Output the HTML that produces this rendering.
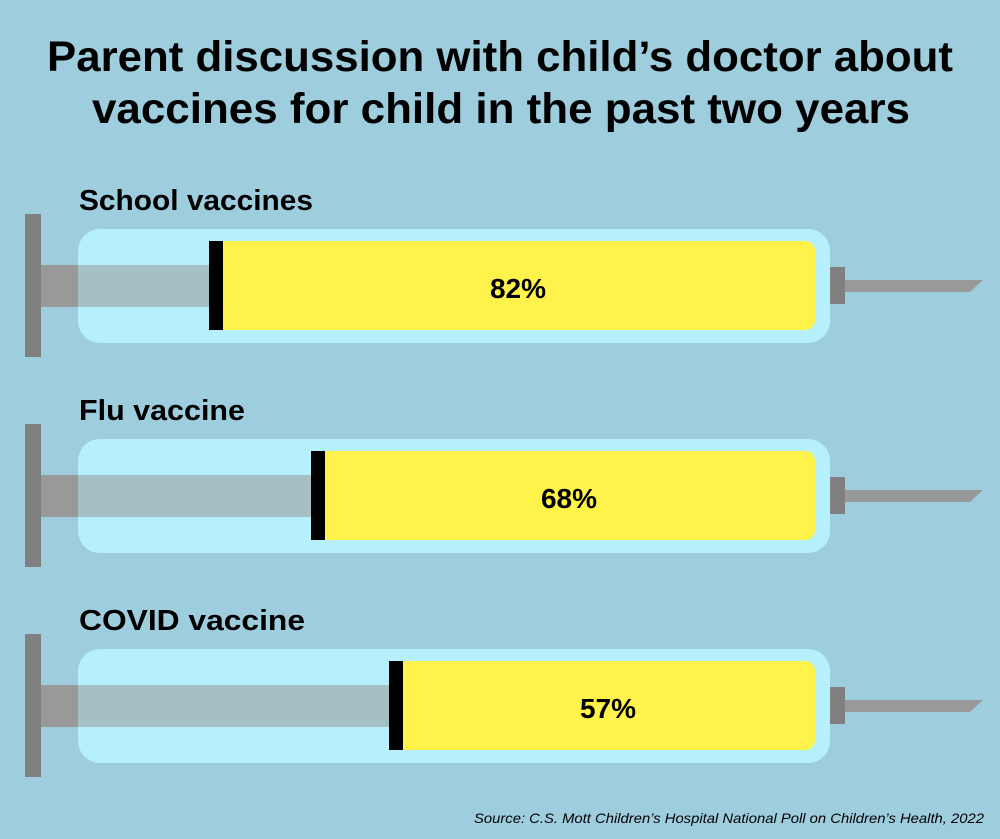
<!DOCTYPE html>
<html><head><style>html,body{margin:0;padding:0;background:#9ecdde;}svg{display:block}</style></head>
<body>
<svg width="1000" height="839" viewBox="0 0 1000 839" xmlns="http://www.w3.org/2000/svg" font-family="Liberation Sans, sans-serif">
<rect width="1000" height="839" fill="#9ecdde"/>
<text x="500" y="71" text-anchor="middle" font-size="43" font-weight="bold" textLength="906" lengthAdjust="spacingAndGlyphs">Parent discussion with child’s doctor about</text>
<text x="501" y="123" text-anchor="middle" font-size="43" font-weight="bold" textLength="818" lengthAdjust="spacingAndGlyphs">vaccines for child in the past two years</text>

<g>
<text x="79" y="210" font-size="29" font-weight="bold" textLength="234" lengthAdjust="spacingAndGlyphs">School vaccines</text>
<rect x="25" y="214" width="16" height="143" fill="#808080"/>
<rect x="78" y="229" width="752" height="114" rx="22" fill="#b6f0fc"/>
<rect x="41" y="265" width="37" height="42" fill="#999999"/>
<rect x="78" y="265" width="132" height="42" fill="#a6bfc4"/>
<rect x="223" y="241" width="592" height="89" rx="10" fill="#fff24a"/>
<rect x="223" y="241" width="20" height="89" fill="#fff24a"/>
<rect x="209" y="241" width="14" height="89" fill="#000"/>
<rect x="830" y="267" width="15" height="37" fill="#808080"/>
<polygon points="845,280 983,280 970,292 845,292" fill="#999999"/>
<text x="518" y="298" text-anchor="middle" font-size="28" font-weight="bold">82%</text>
</g>

<g>
<text x="79" y="420" font-size="29" font-weight="bold" textLength="166" lengthAdjust="spacingAndGlyphs">Flu vaccine</text>
<rect x="25" y="424" width="16" height="143" fill="#808080"/>
<rect x="78" y="439" width="752" height="114" rx="22" fill="#b6f0fc"/>
<rect x="41" y="475" width="37" height="42" fill="#999999"/>
<rect x="78" y="475" width="234" height="42" fill="#a6bfc4"/>
<rect x="325" y="451" width="490" height="89" rx="10" fill="#fff24a"/>
<rect x="325" y="451" width="20" height="89" fill="#fff24a"/>
<rect x="311" y="451" width="14" height="89" fill="#000"/>
<rect x="830" y="477" width="15" height="37" fill="#808080"/>
<polygon points="845,490 983,490 970,502 845,502" fill="#999999"/>
<text x="569" y="508" text-anchor="middle" font-size="28" font-weight="bold">68%</text>
</g>

<g>
<text x="79" y="630" font-size="29" font-weight="bold" textLength="226" lengthAdjust="spacingAndGlyphs">COVID vaccine</text>
<rect x="25" y="634" width="16" height="143" fill="#808080"/>
<rect x="78" y="649" width="752" height="114" rx="22" fill="#b6f0fc"/>
<rect x="41" y="685" width="37" height="42" fill="#999999"/>
<rect x="78" y="685" width="312" height="42" fill="#a6bfc4"/>
<rect x="403" y="661" width="412" height="89" rx="10" fill="#fff24a"/>
<rect x="403" y="661" width="20" height="89" fill="#fff24a"/>
<rect x="389" y="661" width="14" height="89" fill="#000"/>
<rect x="830" y="687" width="15" height="37" fill="#808080"/>
<polygon points="845,700 983,700 970,712 845,712" fill="#999999"/>
<text x="608" y="718" text-anchor="middle" font-size="28" font-weight="bold">57%</text>
</g>

<text x="984" y="823" text-anchor="end" font-size="14" font-style="italic" textLength="510" lengthAdjust="spacingAndGlyphs">Source: C.S. Mott Children’s Hospital National Poll on Children’s Health, 2022</text>
</svg>
</body></html>
